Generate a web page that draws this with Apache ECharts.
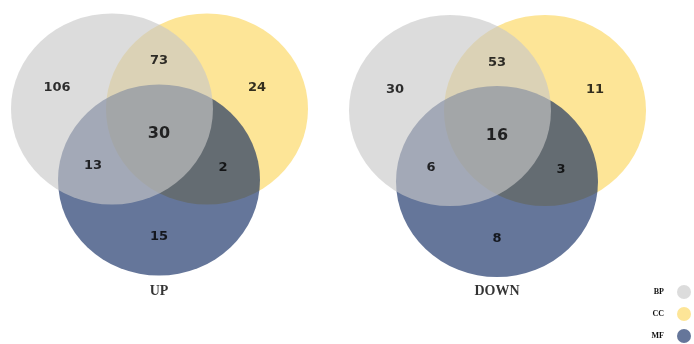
<!DOCTYPE html>
<html>
<head>
<meta charset="utf-8">
<script src="https://cdn.jsdelivr.net/npm/echarts@6/dist/echarts.min.js"></script>
<style>
  html, body { margin: 0; padding: 0; background: #fff; }
  #chart { width: 694px; height: 344px; }
</style>
</head>
<body>
<div id="chart"></div>
<script>
// Gene-ontology categories and the two comparisons
const sets = ['BP', 'CC', 'MF'];
const panelTitles = ['UP', 'DOWN'];

// Venn regions (exclusive counts)
const regions = ['BP', 'CC', 'MF', 'BP∩CC', 'BP∩MF', 'CC∩MF', 'BP∩CC∩MF'];
const upCounts = [106, 24, 15, 73, 13, 2, 30];
const downCounts = [30, 11, 8, 53, 6, 3, 16];

// ---- layout (pixel space of the plot) ----
const panelCenterX = [159, 497];
const panelShiftY = [0, 1.5];
const circleCenter = { BP: [-47, 109], CC: [48, 109], MF: [0, 180] };
const circleSize = [202, 191];
const regionAnchor = {
  'BP': [-102, 88],
  'CC': [98, 88],
  'MF': [0, 237],
  'BP∩CC': [0, 61],
  'BP∩MF': [-66, 166],
  'CC∩MF': [64, 168],
  'BP∩CC∩MF': [0, 134]
};
const titleY = 291;

const setColor = {
  BP: 'rgba(199,199,199,0.63)',
  CC: '#fde597',
  MF: 'rgba(6,34,92,0.62)'
};

const countsByPanel = [upCounts, downCounts];

// one series per set, one circle per panel; drawn CC, MF, BP bottom-to-top
const drawOrder = ['CC', 'MF', 'BP'];
const circleSeries = drawOrder.map((name, i) => ({
  name: name,
  type: 'scatter',
  symbol: 'circle',
  symbolSize: circleSize,
  z: 2 + i,
  silent: true,
  itemStyle: { color: setColor[name], opacity: 1 },
  data: panelTitles.map((t, p) => [
    panelCenterX[p] + circleCenter[name][0],
    circleCenter[name][1] + panelShiftY[p]
  ])
}));

const labelData = [];
countsByPanel.forEach((counts, p) => {
  regions.forEach((r, k) => {
    const a = regionAnchor[r];
    labelData.push({
      value: [panelCenterX[p] + a[0], a[1] + panelShiftY[p], counts[k]],
      label: { fontSize: r === 'BP∩CC∩MF' ? 16 : 13 }
    });
  });
});

const countLabels = {
  type: 'scatter',
  symbolSize: 0,
  z: 10,
  silent: true,
  data: labelData,
  label: {
    show: true,
    position: 'inside',
    formatter: (p) => String(p.value[2]),
    fontFamily: 'DejaVu Sans',
    fontWeight: 'bold',
    fontSize: 13,
    color: '#000'
  }
};

const titleLabels = {
  type: 'scatter',
  symbolSize: 0,
  z: 10,
  silent: true,
  data: panelTitles.map((t, p) => ({ value: [panelCenterX[p], titleY], name: t })),
  label: {
    show: true,
    position: 'inside',
    formatter: (p) => p.name,
    fontFamily: 'Liberation Serif',
    fontWeight: 'bold',
    fontSize: 14,
    color: '#000'
  }
};

const chart = echarts.init(document.getElementById('chart'), null, { renderer: 'canvas' });
chart.setOption({
  animation: false,
  backgroundColor: '#fff',
  grid: { left: 0, right: 0, top: 0, bottom: 0 },
  xAxis: { type: 'value', min: 0, max: 694, show: false },
  yAxis: { type: 'value', min: 0, max: 344, inverse: true, show: false },
  legend: {
    data: sets,
    orient: 'vertical',
    align: 'right',
    right: 3,
    top: 285,
    padding: 0,
    icon: 'circle',
    itemWidth: 14,
    itemHeight: 14,
    itemGap: 8,
    selectedMode: false,
    textStyle: {
      fontFamily: 'Liberation Serif',
      fontWeight: 'bold',
      fontSize: 8,
      color: '#111',
      padding: [0, 8, 0, 0]
    }
  },
  series: [...circleSeries, countLabels, titleLabels]
});
</script>
</body>
</html>
